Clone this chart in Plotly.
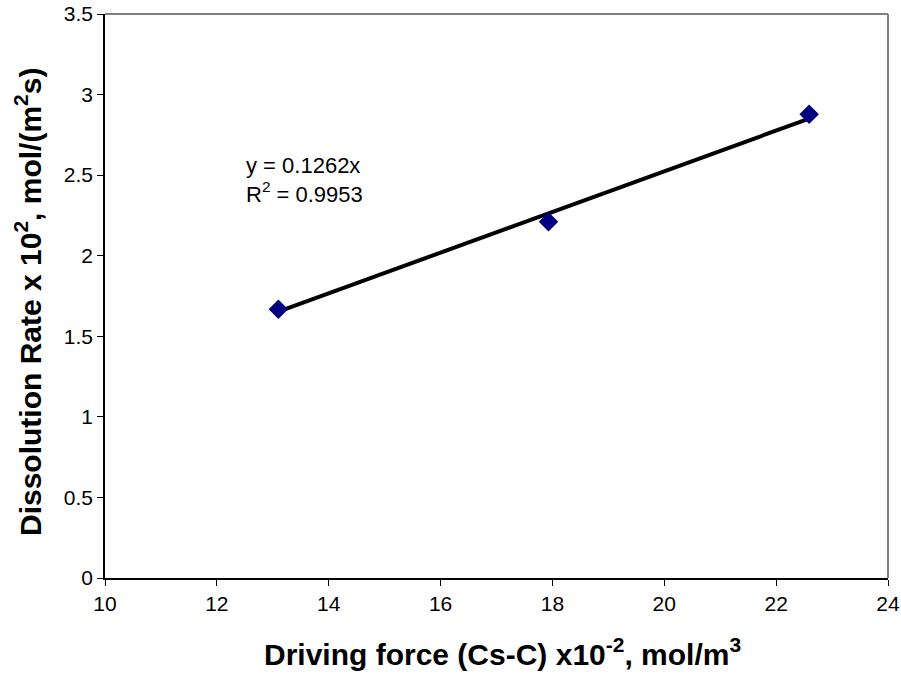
import plotly.graph_objects as go

driving_force = [13.10, 17.93, 22.59]
dissolution_rate = [1.668, 2.21, 2.878]
slope = 0.1262
r_squared = 0.9953

x_ticks = [10, 12, 14, 16, 18, 20, 22, 24]
y_ticks = [0, 0.5, 1, 1.5, 2, 2.5, 3, 3.5]

trend_x = [min(driving_force), max(driving_force)]
trend_y = [slope * v for v in trend_x]

font_family = "Arial, 'Liberation Sans', sans-serif"

W, H = 901, 674
L, T = 105, 14
R = W - 888
B = H - 578
pw, ph = W - L - R, H - T - B

fig = go.Figure()
fig.add_trace(go.Scatter(x=trend_x, y=trend_y, mode="lines",
                         line=dict(color="black", width=4), showlegend=False))
fig.add_trace(go.Scatter(x=driving_force, y=dissolution_rate, mode="markers",
                         marker=dict(symbol="diamond", size=15, color="#000080",
                                     line=dict(width=0)),
                         showlegend=False))

# grey top and right frame lines
fig.add_shape(type="line", xref="paper", yref="paper", x0=0, y0=1, x1=1, y1=1,
              line=dict(color="#808080", width=2), layer="above")
fig.add_shape(type="line", xref="paper", yref="paper", x0=1, y0=0, x1=1, y1=1,
              line=dict(color="#808080", width=2), layer="above")

fig.add_annotation(x=13.56, y=2.47, xref="x", yref="y",
                   text=f"y = {slope}x<br>R<sup>2</sup> = {r_squared}",
                   showarrow=False, align="left", xanchor="center", yanchor="middle",
                   font=dict(family=font_family, size=22, color="black"))

def px_to_paper(sx, sy):
    return (sx - L) / pw, (H - B - sy) / ph

tx, ty = px_to_paper(502, 652)
fig.add_annotation(x=tx, y=ty, xref="paper", yref="paper",
                   text="<b>Driving force (Cs-C) x10<sup>-2</sup>, mol/m<sup>3</sup></b>",
                   showarrow=False, xanchor="center", yanchor="middle",
                   font=dict(family=font_family, size=30, color="black"))
yx, yy = px_to_paper(28, 302)
fig.add_annotation(x=yx, y=yy, xref="paper", yref="paper",
                   text="<b>Dissolution Rate x 10<sup>2</sup>, mol/(m<sup>2</sup>s)</b>",
                   showarrow=False, textangle=-90, xanchor="center", yanchor="middle",
                   font=dict(family=font_family, size=30, color="black"))

axis_common = dict(showgrid=False, zeroline=False, showline=True, linecolor="black",
                   linewidth=1.5, ticks="outside", ticklen=6, tickcolor="black",
                   tickfont=dict(size=21), automargin=False, ticklabeloverflow="allow")

fig.update_layout(
    width=W, height=H,
    margin=dict(l=L, r=R, t=T, b=B, autoexpand=False),
    plot_bgcolor="white", paper_bgcolor="white",
    font=dict(family=font_family, size=21, color="black"),
    xaxis=dict(range=[10, 24], tickvals=x_ticks, ticktext=[str(v) for v in x_ticks],
               **axis_common),
    yaxis=dict(range=[0, 3.5], tickvals=y_ticks, ticktext=[f"{v:g}" for v in y_ticks],
               **axis_common),
)

fig.write_html("out.html", config={"displayModeBar": False},
               post_script="document.body.style.margin='0';document.body.style.overflow='hidden';")
